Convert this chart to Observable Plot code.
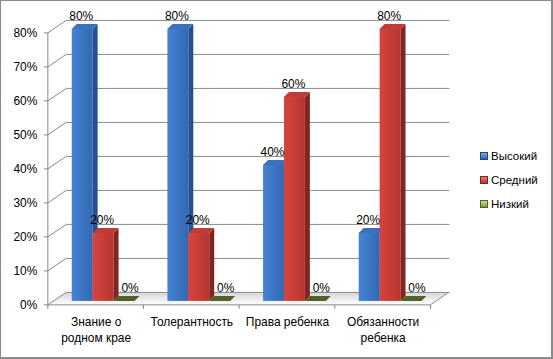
<!DOCTYPE html>
<html><head><meta charset="utf-8">
<script src="https://cdn.jsdelivr.net/npm/d3@7"></script>
<script src="https://cdn.jsdelivr.net/npm/@observablehq/plot@0.6"></script>
<style>
body{margin:0;background:#fff;}
#wrap{position:relative;width:553px;height:359px;box-sizing:border-box;border:1px solid #8a8a8a;border-right:2px solid #8a8a8a;border-bottom:2px solid #8a8a8a;background:#fff;font-family:"Liberation Sans",Arial,sans-serif;overflow:hidden;}
#chart{position:absolute;left:-1px;top:-1px;}
#legend{position:absolute;left:479px;top:146px;font-size:11.5px;color:#000;}
#legend .item{height:24px;line-height:18px;white-space:nowrap;}
#legend .sw{display:inline-block;width:6px;height:6px;margin-right:3px;vertical-align:0px;}
</style>
</head><body>
<svg width="0" height="0" style="position:absolute">
<defs>
<linearGradient id="gBlue" x1="0" x2="1" y1="0" y2="0"><stop offset="0" stop-color="#4585d3"/><stop offset="1" stop-color="#3367b3"/></linearGradient>
<linearGradient id="gRed" x1="0" x2="1" y1="0" y2="0"><stop offset="0" stop-color="#d6443f"/><stop offset="1" stop-color="#b83531"/></linearGradient>
<linearGradient id="gGreen" x1="0" x2="1" y1="0" y2="0"><stop offset="0" stop-color="#7a9a3c"/><stop offset="1" stop-color="#5f7a2c"/></linearGradient>
<linearGradient id="gFloor" x1="0" x2="0" y1="0" y2="1"><stop offset="0" stop-color="#d4d4d4"/><stop offset="1" stop-color="#ffffff"/></linearGradient>
</defs>
</svg>
<div id="wrap">
<div id="chart"></div>
<div id="legend"></div>
</div>
<script>
const categories = ["Знание о\nродном крае", "Толерантность", "Права ребенка", "Обязанности\nребенка"];
const seriesNames = ["Высокий", "Средний", "Низкий"];
const high = [0.8, 0.8, 0.4, 0.2];
const mid = [0.2, 0.2, 0.6, 0.8];
const low = [0, 0, 0, 0];
const yTicks = [0, 0.1, 0.2, 0.3, 0.4, 0.5, 0.6, 0.7, 0.8];

const seriesValues = [high, mid, low];
const frontFill = ["url(#gBlue)", "url(#gRed)", "url(#gGreen)"];
const sideFill = ["#24518f", "#842422", "#3d4d1c"];
const topFill = ["#3a70bd", "#c23c37", "#4f6228"];
const legendSw = [
  "background:linear-gradient(#7aa8e4,#2f64b0);border:1px solid #1f4a80",
  "background:linear-gradient(#ee7a76,#b8302c);border:1px solid #7f2120",
  "background:linear-gradient(#c7df8a,#7d9a36);border:1px solid #4f6228"
];

const rows = [];
seriesValues.forEach((vals, si) => vals.forEach((v, ci) => rows.push({cat: categories[ci], value: v, si, series: seriesNames[si]})));

const BAND_IN = 18, BW = 21, SX = 6, SY = -4, DX = 5, DY = -5, WX = 19, WY = -13;

function barX0(scales, r) { return scales.x(r.cat) + BAND_IN + BW * r.si + SX; }

function floorMark(index, scales) {
  const g = d3.create("svg:g");
  const xl = scales.x(categories[0]);
  const xr = scales.x(categories[categories.length - 1]) + scales.x.bandwidth();
  const y0 = scales.y(0);
  g.append("path")
    .attr("d", `M${xl},${y0}L${xr},${y0}L${xr + WX},${y0 + WY}L${xl + WX},${y0 + WY}Z`)
    .attr("fill", "url(#gFloor)").attr("stroke", "none");
  g.append("path")
    .attr("d", `M${xr},${y0}L${xr + WX},${y0 + WY}`)
    .attr("stroke", "#8c8c8c").attr("fill", "none");
  return g.node();
}

function axesMark(index, scales) {
  const g = d3.create("svg:g").attr("stroke", "#868686").attr("fill", "none");
  const xl = scales.x(categories[0]);
  const xr = scales.x(categories[categories.length - 1]) + scales.x.bandwidth();
  const y0 = scales.y(0);
  // diagonal connectors from front axis to back wall
  for (const t of yTicks) {
    const y = scales.y(t);
    g.append("path").attr("d", `M${xl},${y}L${xl + WX},${y + WY}`);
    g.append("path").attr("d", `M${xl - 4},${y}L${xl},${y}`);
  }
  // y axis line
  g.append("path").attr("d", `M${xl},${scales.y(yTicks[yTicks.length - 1])}L${xl},${y0}`);
  // x axis line
  g.append("path").attr("d", `M${xl},${y0}L${xr},${y0}`);
  // boundary ticks
  const bounds = categories.map(c => scales.x(c)).concat([xr]);
  for (const b of bounds) g.append("path").attr("d", `M${b},${y0}L${b},${y0 + 4}`);
  return g.node();
}

function facesMark(si) {
  return (index, scales) => {
    const g = d3.create("svg:g");
    for (const r of rows.filter(r => r.si === si)) {
      const x0 = barX0(scales, r);
      const x1 = x0 + BW;
      const yt = scales.y(r.value) + SY;
      const yb = scales.y(0) + SY;
      if (r.value > 0) {
        g.append("path")
          .attr("d", `M${x1},${yt}L${x1 + DX},${yt + DY}L${x1 + DX},${yb + DY}L${x1},${yb}Z`)
          .attr("fill", sideFill[si]);
      }
      g.append("path")
        .attr("d", `M${x0},${yt}L${x1},${yt}L${x1 + DX},${yt + DY}L${x0 + DX},${yt + DY}Z`)
        .attr("fill", topFill[si]);
    }
    return g.node();
  };
}

const labelDx = [-15, 6, 34];
const marks = [floorMark, Plot.ruleY(yTicks, {dx: WX, dy: WY, stroke: "#8c8c8c", strokeOpacity: 1}), axesMark];
for (let si = 0; si < 3; si++) {
  const data = rows.filter(r => r.si === si);
  marks.push(Plot.barY(data, {
    x: "cat", y: "value", fill: frontFill[si],
    insetLeft: BAND_IN + BW * si, insetRight: 96 - BAND_IN - BW * (si + 1),
    dx: SX, dy: SY
  }));
  marks.push(facesMark(si));
}
for (let si = 0; si < 3; si++) {
  const data = rows.filter(r => r.si === si);
  marks.push(Plot.text(data, {
    x: "cat", y: "value", text: d => Math.round(d.value * 100) + "%",
    dx: labelDx[si], dy: -17.5, fontSize: 12, fill: "#000"
  }));
}
marks.push(Plot.text(categories, {
  x: d => d, frameAnchor: "bottom", dy: 10, lineAnchor: "top", lineHeight: 1.3, fontSize: 12, fill: "#000"
}));

const chart = Plot.plot({
  width: 553, height: 359,
  marginLeft: 48, marginRight: 121, marginTop: 33, marginBottom: 53,
  style: {background: "transparent", fontFamily: "'Liberation Sans', Arial, sans-serif", fontSize: "12px", color: "#000", overflow: "visible"},
  x: {domain: categories, padding: 0, axis: null},
  y: {domain: [0, 0.8], ticks: yTicks, tickFormat: d => Math.round(d * 100) + "%", tickSize: 0, tickPadding: 11, label: null},
  marks
});
document.getElementById("chart").appendChild(chart);

const legend = document.getElementById("legend");
seriesNames.forEach((n, i) => {
  const it = document.createElement("div");
  it.className = "item";
  it.innerHTML = `<span class="sw" style="${legendSw[i]}"></span>${n}`;
  legend.appendChild(it);
});
</script>
</body></html>
